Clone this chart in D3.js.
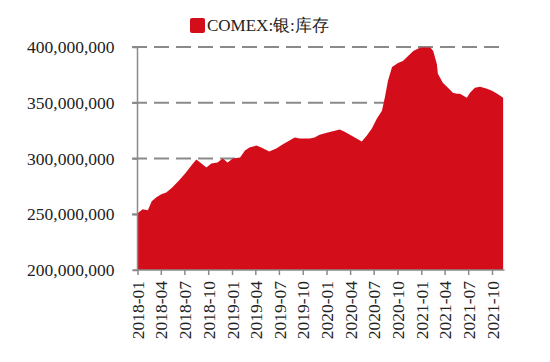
<!DOCTYPE html>
<html><head><meta charset="utf-8">
<script src="https://cdn.jsdelivr.net/npm/d3@7"></script>
<style>body{margin:0;background:#fff}svg text{font-family:"Liberation Serif","Times New Roman",serif;fill:#222}</style>
</head><body><svg id="c" width="550" height="362"></svg>
<script>
const dates = ["2018-01-01","2018-01-21","2018-02-10","2018-02-25","2018-03-15","2018-04-03","2018-04-22","2018-05-15","2018-06-11","2018-07-04","2018-07-28","2018-08-16","2018-09-05","2018-09-24","2018-10-13","2018-11-06","2018-11-26","2018-12-15","2019-01-04","2019-02-01","2019-02-20","2019-03-09","2019-04-05","2019-04-24","2019-05-25","2019-06-21","2019-07-15","2019-08-11","2019-08-31","2019-09-19","2019-10-28","2019-11-16","2019-12-05","2020-01-02","2020-02-02","2020-02-21","2020-03-11","2020-04-07","2020-04-26","2020-05-16","2020-06-04","2020-06-24","2020-07-13","2020-08-02","2020-08-13","2020-08-25","2020-09-10","2020-10-03","2020-10-22","2020-11-11","2020-12-01","2020-12-28","2021-02-05","2021-02-16","2021-03-02","2021-03-06","2021-03-25","2021-04-14","2021-05-03","2021-05-18","2021-05-30","2021-06-26","2021-07-08","2021-07-27","2021-08-16","2021-09-12","2021-10-01","2021-10-21","2021-11-13"];
const values = [250.9,254.5,253.6,261.6,265.2,267.9,269.6,274.1,280.4,286.6,293.8,299.1,295.5,292.0,295.5,296.4,300.0,296.4,300.0,300.9,307.1,309.8,311.6,309.8,306.3,308.9,312.5,316.1,318.8,317.9,317.9,318.8,321.4,323.2,325.0,325.9,324.1,320.5,317.9,315.2,320.5,326.8,335.7,342.9,354.5,369.6,382.1,385.7,387.5,392.0,396.4,399.6,399.6,396.4,384.8,375.9,367.9,363.4,358.9,358.0,358.0,354.5,358.9,363.4,364.3,362.5,360.7,358.0,354.5].map(v => v * 1e6);
const yTicks = [200000000, 250000000, 300000000, 350000000, 400000000];
const xTicks = ["2018-01","2018-04","2018-07","2018-10","2019-01","2019-04","2019-07","2019-10","2020-01","2020-04","2020-07","2020-10","2021-01","2021-04","2021-07","2021-10"];
const seriesName = "COMEX:银:库存";

const parse = d3.timeParse("%Y-%m-%d");
const data = dates.map((d, i) => ({ d: parse(d), v: values[i] }));
const svg = d3.select("#c");
const L = 137.5, R = 503.5, T = 47, B = 270;
const x = d3.scaleTime().domain([parse("2018-01-01"), parse("2021-10-01")]).range([L, 492]);
const y = d3.scaleLinear().domain([200000000, 400000000]).range([B, T]);
const grey = "#8a8a8a", red = "#d40d1b";

// gridlines
svg.append("g").selectAll("line").data(yTicks.slice(1)).join("line")
  .attr("x1", 132).attr("x2", R).attr("y1", d => y(d)).attr("y2", d => y(d))
  .attr("stroke", grey).attr("stroke-width", 2.2).attr("stroke-dasharray", "15,7");

// area
svg.append("path").datum(data)
  .attr("fill", red)
  .attr("d", d3.area().x(d => x(d.d)).y0(B).y1(d => y(d.v)));

// y axis
const fmt = d3.format(",");
const ya = svg.append("g").attr("transform", `translate(${L},0)`)
  .call(d3.axisLeft(y).tickValues(yTicks).tickSize(5).tickPadding(18).tickFormat(fmt));
ya.select(".domain").attr("stroke", grey).attr("stroke-width", 1.5).attr("d", `M-5,${B}H0V${T}`);
ya.selectAll(".tick line").attr("stroke", grey).attr("stroke-width", 1.5);
ya.selectAll(".tick text").attr("font-size", 17.5).attr("fill", "#222")
  .attr("font-family", "Liberation Serif, serif").attr("dy", "0.32em");

// x axis
const xa = svg.append("g").attr("transform", `translate(0,${B})`)
  .call(d3.axisBottom(x).tickValues(xTicks.map(t => parse(t + "-01"))).tickSize(5).tickFormat(d3.timeFormat("%Y-%m")));
xa.select(".domain").attr("stroke", grey).attr("stroke-width", 1.5).attr("d", `M${L},0H${R+1}`);
xa.selectAll(".tick line").attr("stroke", grey).attr("stroke-width", 1.5);
xa.selectAll(".tick text").attr("font-size", 17.5).attr("fill", "#222")
  .attr("font-family", "Liberation Serif, serif")
  .attr("text-anchor", "end").attr("transform", "rotate(-90)")
  .attr("x", -11).attr("y", 0).attr("dy", "0.35em");

// legend
const lg = svg.append("g");
lg.append("rect").attr("x", 190).attr("y", 18).attr("width", 15).attr("height", 15).attr("rx", 2).attr("fill", red);
lg.append("text").attr("x", 207).attr("y", 31).attr("font-size", 17).attr("fill", "#222").text(seriesName);
</script></body></html>
